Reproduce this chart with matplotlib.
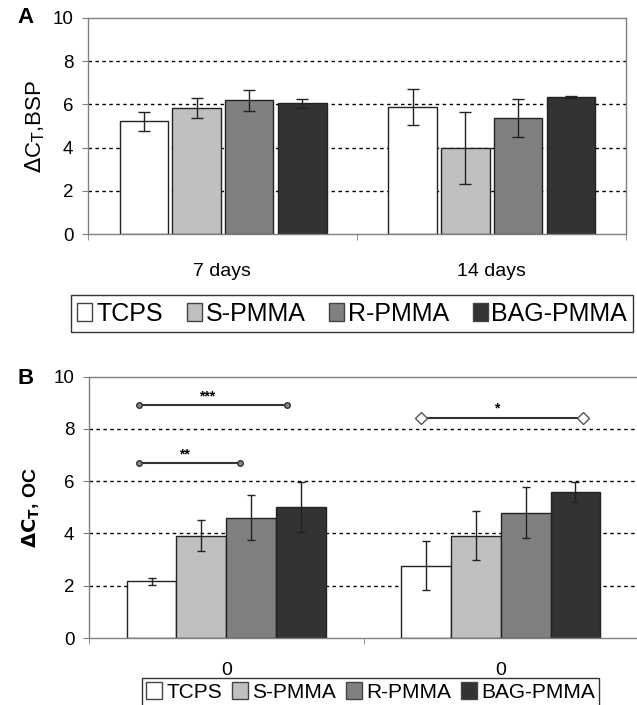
import matplotlib
matplotlib.use("Agg")
import matplotlib.pyplot as plt
import numpy as np
from matplotlib.patches import Patch

plt.rcParams['font.family'] = ['Liberation Sans', 'DejaVu Sans']

series = ["TCPS", "S-PMMA", "R-PMMA", "BAG-PMMA"]
colors = ["#ffffff", "#c0c0c0", "#808080", "#333333"]

# Panel A
cats_a = ["7 days", "14 days"]
vals_a = {"TCPS": [5.22, 5.88], "S-PMMA": [5.83, 3.98], "R-PMMA": [6.19, 5.39], "BAG-PMMA": [6.05, 6.34]}
errs_a = {"TCPS": [0.44, 0.82], "S-PMMA": [0.46, 1.65], "R-PMMA": [0.48, 0.88], "BAG-PMMA": [0.22, 0.05]}

# Panel B
cats_b = ["0", "0"]
vals_b = {"TCPS": [2.17, 2.76], "S-PMMA": [3.92, 3.92], "R-PMMA": [4.61, 4.80], "BAG-PMMA": [5.01, 5.58]}
errs_b = {"TCPS": [0.14, 0.94], "S-PMMA": [0.59, 0.94], "R-PMMA": [0.86, 0.99], "BAG-PMMA": [0.96, 0.39]}

# significance brackets in panel B: (x0, x1, y, label, open marker)
sig_x0 = [-0.318, -0.318, 0.709]
sig_x1 = [0.221, 0.05, 1.30]
sig_y = [8.90, 6.69, 8.43]
sig_lab = ["***", "**", "*"]
sig_open = [False, False, True]

fig = plt.figure(figsize=(6.37, 7.05), dpi=100)

def style_axes(ax, right_spine=True):
    ax.set_ylim(0, 10)
    ax.set_xlim(-0.5, 1.5)
    ax.set_yticks(np.arange(0, 11, 2))
    for y in [2, 4, 6, 8]:
        ax.axhline(y, color="black", lw=1.0, ls=(0, (2.5, 2.5)), zorder=0)
    for s in ["left", "top", "right", "bottom"]:
        ax.spines[s].set_color("#808080")
        ax.spines[s].set_linewidth(1.0)
    ax.spines["right"].set_visible(right_spine)
    ax.tick_params(axis="y", length=4.5, color="#808080", labelsize=13.5, pad=6)
    ax.set_xticks([-0.5, 0.5, 1.5], minor=True)
    ax.tick_params(axis="x", which="minor", length=4, color="#808080")
    ax.tick_params(axis="x", which="major", length=0)

# ---- Panel A
axA = fig.add_axes([0.138, 0.668, 0.844, 0.3065])
xa = np.arange(len(cats_a))
offs_a = [-0.292, -0.096, 0.10, 0.298]
for i, s in enumerate(series):
    axA.bar(xa + offs_a[i], vals_a[s], width=0.18, color=colors[i], edgecolor="#222222", lw=1.0,
            yerr=errs_a[s], error_kw=dict(ecolor="#222222", elinewidth=1.0, capsize=4, capthick=1.0), zorder=2)
style_axes(axA)
axA.set_xticks(xa)
axA.set_xticklabels(cats_a, fontsize=14)
axA.tick_params(axis="x", which="major", pad=21)
axA.set_ylabel(r"$\Delta$C$_\mathrm{T}$,BSP", fontsize=16, labelpad=4)
fig.text(0.028, 0.975, "A", fontsize=16, fontweight="bold", ha="left", va="center")

handles = [Patch(facecolor=c, edgecolor="#444444", lw=1.0) for c in colors]
fig.legend(handles, series, loc="center", bbox_to_anchor=(0.553, 0.555), ncol=4, fontsize=18,
           frameon=True, fancybox=False, edgecolor="black", handlelength=0.6, handleheight=0.7,
           handletextpad=0.15, columnspacing=0.95, borderpad=0.25).get_frame().set_linewidth(1.0)

# ---- Panel B
axB = fig.add_axes([0.1397, 0.095, 0.862, 0.3707])
xb = np.arange(len(cats_b))
offs_b = [-0.272, -0.091, 0.091, 0.272]
for i, s in enumerate(series):
    axB.bar(xb + offs_b[i], vals_b[s], width=0.181, color=colors[i], edgecolor="#222222", lw=1.0,
            yerr=errs_b[s], error_kw=dict(ecolor="#222222", elinewidth=1.0, capsize=3, capthick=1.0), zorder=2)
style_axes(axB, right_spine=False)
axB.set_xticks(xb)
axB.set_xticklabels(cats_b, fontsize=14)
axB.tick_params(axis="x", which="major", pad=17)
axB.set_ylabel(r"$\mathbf{\Delta}$$\mathbf{C}_\mathbf{T}$, OC", fontsize=14, fontweight="bold", labelpad=8)
fig.text(0.028, 0.463, "B", fontsize=16, fontweight="bold", ha="left", va="center")

for x0, x1, y, lab, op in zip(sig_x0, sig_x1, sig_y, sig_lab, sig_open):
    if op:
        axB.plot([x0, x1], [y, y], color="#333333", lw=1.5, marker="D", ms=6, mfc="white", mec="#555555", zorder=3)
    else:
        axB.plot([x0, x1], [y, y], color="#333333", lw=1.5, marker="o", ms=4, mfc="#888888", mec="#333333", zorder=3)
    axB.text((x0 + x1) / 2 - 0.02, y + 0.08, lab, ha="center", va="bottom", fontsize=10, fontweight="bold")

fig.legend(handles, series, loc="center", bbox_to_anchor=(0.5816, 0.019), ncol=4, fontsize=15,
           frameon=True, fancybox=False, edgecolor="black", handlelength=0.75, handleheight=0.9,
           handletextpad=0.2, columnspacing=0.5, borderpad=0.2).get_frame().set_linewidth(1.0)

fig.savefig("out.png", dpi=100)
